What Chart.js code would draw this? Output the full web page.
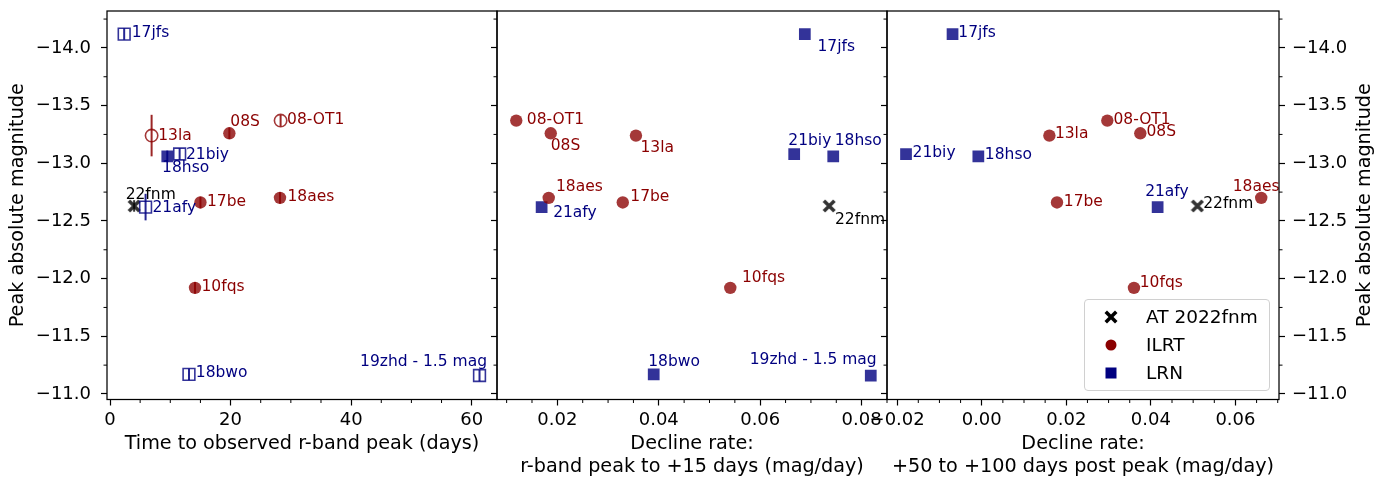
<!DOCTYPE html>
<html>
<head>
<meta charset="utf-8">
<script src="https://cdn.jsdelivr.net/npm/chart.js@4.4.0/dist/chart.umd.min.js"></script>
<style>
html, body { margin: 0; padding: 0; background: #fff; }
#wrap { position: relative; width: 1390px; height: 479px; font-family: 'DejaVu Sans'; }
#wrap canvas { position: absolute; left: 0; top: 0; }
#legend { position: absolute; left: 1084px; top: 299px; width: 186px; height: 92px; box-sizing: border-box;
  border: 1px solid #d0d0d0; border-radius: 4px; background: rgba(255,255,255,0.85); font-size: 18.5px; color: #000; }
#legend .lrow { position: absolute; left: 0; width: 100%; height: 24px; }
#legend svg { position: absolute; left: 19px; top: 5px; }
#legend span { position: absolute; left: 61px; top: 0; line-height: 24px; white-space: nowrap; }
</style>
</head>
<body>
<div id="wrap">
  <canvas id="c1" width="1390" height="479"></canvas>
  <canvas id="c2" width="1390" height="479"></canvas>
  <canvas id="c3" width="1390" height="479"></canvas>
  <div id="legend">
    <div class="lrow" style="top:5px"><svg width="14" height="14" viewBox="-7 -7 14 14"><polygon fill="#000" points="-6.5,-4 -4,-6.5 0,-2.5 4,-6.5 6.5,-4 2.5,0 6.5,4 4,6.5 0,2.5 -4,6.5 -6.5,4 -2.5,0"/></svg><span>AT 2022fnm</span></div>
    <div class="lrow" style="top:33px"><svg width="14" height="14" viewBox="-7 -7 14 14"><circle cx="0" cy="0" r="5.5" fill="#8b0000"/></svg><span>ILRT</span></div>
    <div class="lrow" style="top:61px"><svg width="14" height="14" viewBox="-7 -7 14 14"><rect x="-5.5" y="-5.5" width="11" height="11" fill="#000080"/></svg><span>LRN</span></div>
  </div>
</div>
<script>
// objects, class and peak magnitude
const names      = ['22fnm', '08S', '08-OT1', '10fqs', '13la', '17be', '18aes', '17jfs', '18bwo', '18hso', '19zhd', '21afy', '21biy'];
const classes    = ['AT', 'ILRT', 'ILRT', 'ILRT', 'ILRT', 'ILRT', 'ILRT', 'LRN', 'LRN', 'LRN', 'LRN', 'LRN', 'LRN'];
const peakMag    = [-12.63, -13.26, -13.37, -11.92, -13.24, -12.66, -12.70, -14.12, -11.17, -13.06, -11.16, -12.62, -13.08];
const peakMagErr = [0.05, 0.05, 0.05, 0.05, 0.18, 0.05, 0.05, 0.05, 0.05, 0.05, 0.05, 0.115, 0.05];
// x quantities of the three panels
const riseDays   = [4.0, 19.8, 28.3, 14.1, 6.9, 15.0, 28.2, 2.35, 13.1, 9.5, 61.3, 5.9, 11.55];
const riseOpen   = [false, false, true, false, true, false, false, true, true, false, true, true, true];
const earlyRate  = [0.0736, 0.0187, 0.0119, 0.0541, 0.0355, 0.0329, 0.0183, 0.0688, 0.0390, 0.0744, 0.0818, 0.0169, 0.0667];
const lateRate   = [0.0510, 0.0375, 0.0297, 0.0360, 0.0160, 0.0178, 0.0661, -0.0069, null, -0.0008, null, 0.0416, -0.0179];
// tick labels
const magTicks   = [-14.0, -13.5, -13.0, -12.5, -12.0, -11.5, -11.0];
const riseTicks  = [0, 20, 40, 60];
const earlyTicks = [0.02, 0.04, 0.06, 0.08];
const lateTicks  = [-0.02, 0.00, 0.02, 0.04, 0.06];

const FONT = 'DejaVu Sans';
Chart.defaults.font.family = FONT;
Chart.defaults.color = '#000';

const fillColor = { AT: 'rgba(0,0,0,0.8)', ILRT: 'rgba(139,0,0,0.78)', LRN: 'rgba(0,0,128,0.8)' };
const textColor = { AT: '#000000', ILRT: '#8b0000', LRN: '#000080' };
const errColor  = { AT: 'rgba(0,0,0,0.8)', ILRT: 'rgba(139,0,0,0.85)', LRN: 'rgba(0,0,128,0.85)' };

// filled "X" marker
const xMarker = document.createElement('canvas');
xMarker.width = 14; xMarker.height = 14;
(function () {
  const g = xMarker.getContext('2d');
  g.translate(7, 7);
  g.fillStyle = 'rgba(0,0,0,0.8)';
  g.beginPath();
  const p = [[-6.5,-4],[-4,-6.5],[0,-2.5],[4,-6.5],[6.5,-4],[2.5,0],[6.5,4],[4,6.5],[0,2.5],[-4,6.5],[-6.5,4],[-2.5,0]];
  p.forEach((q, i) => i ? g.lineTo(q[0], q[1]) : g.moveTo(q[0], q[1]));
  g.closePath();
  g.fill();
})();

// where each text label sits next to its marker: [dx, dy, align]
const labels1 = {
  '22fnm': [-8.5, -11, 'left'], '08S': [1, -11.5, 'left'], '08-OT1': [6.5, -0.6, 'left'], '10fqs': [6.5, -1, 'left'],
  '13la': [6.6, 0.4, 'left'], '17be': [6.5, -0.6, 'left'], '18aes': [7.5, -1.3, 'left'], '17jfs': [7.5, -1.4, 'left'],
  '18bwo': [6.8, -1.7, 'left'], '18hso': [-5.2, 11.8, 'left'], '19zhd': [7.5, -13.3, 'right'], '21afy': [6.9, 0.7, 'left'],
  '21biy': [6.3, 0.6, 'left']
};
const labels2 = {
  '22fnm': [5.8, 13.7, 'left'], '08S': [0, 12.4, 'left'], '08-OT1': [10.5, -0.8, 'left'], '10fqs': [11.7, -9.8, 'left'],
  '13la': [4.5, 12.1, 'left'], '17be': [7.5, -5.3, 'left'], '18aes': [7.2, -11.3, 'left'], '17jfs': [12.6, 12.6, 'left'],
  '18bwo': [-5.5, -12.5, 'left'], '18hso': [1.5, -15, 'left'], '19zhd': [5.9, -16, 'right'], '21afy': [11.5, 5.8, 'left'],
  '21biy': [-5.9, -13.4, 'left']
};
const labels3 = {
  '22fnm': [5.8, -1.6, 'left'], '08S': [6.2, -1.3, 'left'], '08-OT1': [6.1, -0.8, 'left'], '10fqs': [5.8, -5, 'left'],
  '13la': [5.5, -1.4, 'left'], '17be': [6.8, -0.6, 'left'], '18aes': [-28.5, -10.5, 'left'], '17jfs': [5.8, -0.9, 'left'],
  '18hso': [6.5, -1.5, 'left'], '21afy': [-12.5, -15.5, 'left'], '21biy': [6.5, -1, 'left']
};

const fmtMinus = s => s.replace('-', '\u2212');

const TITLE_SIZE = 19.2;

const panels = [
  { id: 'c1', xs: riseDays, xMin: -0.5, xMax: 64.2, ticks: riseTicks, minor: 5, fmt: v => String(v),
    title: 'Time to observed r-band peak (days)', titlePad: 23.5, pad: { left: 0, right: 893, top: 11, bottom: 0 },
    yWidth: 107, yLabels: true, open: true, errbars: true, labels: labels1 },
  { id: 'c2', xs: earlyRate, xMin: 0.0081, xMax: 0.0850, ticks: earlyTicks, minor: 0.005, fmt: v => v.toFixed(2),
    title: ['Decline rate:', 'r-band peak to +15 days (mag/day)'], titlePad: 0.5, pad: { left: 0, right: 503, top: 11, bottom: 0 },
    yWidth: 497, yLabels: false, open: false, errbars: false, labels: labels2 },
  { id: 'c3', xs: lateRate, xMin: -0.0224, xMax: 0.0703, ticks: lateTicks, minor: 0.005, fmt: v => fmtMinus(v.toFixed(2)),
    title: ['Decline rate:', '+50 to +100 days post peak (mag/day)'], titlePad: 0.5, pad: { left: 0, right: 1, top: 11, bottom: 0 },
    yWidth: 887, yLabels: false, open: false, errbars: false, labels: labels3, rightAxis: true }
];

const Y_MIN = -14.32, Y_MAX = -10.952;

function minorValues(min, max, step, majors) {
  const out = [];
  for (let k = Math.ceil(min / step - 1e-6); k * step <= max + 1e-9; k++) {
    const v = k * step;
    if (!majors.some(m => Math.abs(m - v) < step / 10)) out.push(v);
  }
  return out;
}

function decor(p) {
  return {
    id: 'decor_' + p.id,
    afterDatasetsDraw(chart) {
      const ctx = chart.ctx;
      const ys = chart.scales.y;
      ctx.save();
      chart.data.datasets.forEach((ds, di) => {
        const meta = chart.getDatasetMeta(di);
        meta.data.forEach((el, i) => {
          const d = ds.data[i];
          const k = classes[d.i];
          if (p.errbars) {
            ctx.strokeStyle = errColor[k];
            ctx.lineWidth = 2;
            ctx.beginPath();
            ctx.moveTo(el.x, ys.getPixelForValue(peakMag[d.i] - peakMagErr[d.i]));
            ctx.lineTo(el.x, ys.getPixelForValue(peakMag[d.i] + peakMagErr[d.i]));
            ctx.stroke();
          }
          const lp = p.labels[d.name];
          if (lp) {
            ctx.font = '15.5px ' + FONT;
            ctx.fillStyle = textColor[k];
            ctx.textAlign = lp[2];
            ctx.textBaseline = 'middle';
            ctx.fillText(d.name === '19zhd' ? '19zhd - 1.5 mag' : d.name, el.x + lp[0], el.y + lp[1]);
          }
        });
      });
      ctx.restore();
    },
    afterDraw(chart) {
      const ctx = chart.ctx;
      const a = chart.chartArea;
      ctx.save();
      ctx.strokeStyle = '#000';
      ctx.lineWidth = 1;
      const xs = chart.scales.x;
      minorValues(p.xMin, p.xMax, p.minor, p.ticks).forEach(v => {
        const x = xs.getPixelForValue(v);
        ctx.beginPath(); ctx.moveTo(x, a.bottom); ctx.lineTo(x, a.bottom + 3.5); ctx.stroke();
      });
      const ym = minorValues(Y_MIN, Y_MAX, 0.25, magTicks);
      ym.forEach(v => {
        const y = chart.scales.y.getPixelForValue(v);
        ctx.beginPath(); ctx.moveTo(a.left, y); ctx.lineTo(a.left - 3.5, y); ctx.stroke();
        if (p.rightAxis) {
          ctx.beginPath(); ctx.moveTo(a.right, y); ctx.lineTo(a.right + 3.5, y); ctx.stroke();
        }
      });
      ctx.lineWidth = 1.25;
      ctx.strokeRect(a.left, a.top, a.right - a.left, a.bottom - a.top);
      if (p.rightAxis) {
        ctx.translate(1365, (a.top + a.bottom) / 2);
        ctx.rotate(-Math.PI / 2);
        ctx.font = TITLE_SIZE + 'px ' + FONT;
        ctx.fillStyle = '#000';
        ctx.textAlign = 'center';
        ctx.textBaseline = 'middle';
        ctx.fillText('Peak absolute magnitude', 0, 0);
      }
      ctx.restore();
    }
  };
}

function yAxis(p, position, width, showLabels, title) {
  return {
    type: 'linear', position: position, min: Y_MIN, max: Y_MAX, reverse: true,
    afterBuildTicks: s => { s.ticks = magTicks.map(v => ({ value: v })); },
    afterFit: s => { s.width = width; s.paddingTop = 0; s.paddingBottom = 0; },
    ticks: { display: showLabels, font: { size: 18 }, color: '#000', padding: position === 'left' ? 10 : 7,
      callback: v => fmtMinus(v.toFixed(1)) },
    grid: { drawOnChartArea: false, drawTicks: true, tickLength: 6, color: '#000', tickWidth: 1.2 },
    border: { display: false },
    title: title ? { display: true, text: 'Peak absolute magnitude', font: { size: TITLE_SIZE }, color: '#000', padding: { top: 6, bottom: 0 } } : { display: false }
  };
}

panels.forEach(p => {
  const datasets = ['ILRT', 'LRN', 'AT'].map(k => {
    const data = names.map((n, i) => ({ x: p.xs[i], y: peakMag[i], name: n, i: i }))
      .filter(d => classes[d.i] === k && d.x !== null);
    const isOpen = c => p.open && c.raw && riseOpen[c.raw.i];
    return {
      label: k,
      data: data,
      showLine: false,
      pointStyle: k === 'AT' ? xMarker : (k === 'ILRT' ? 'circle' : 'rect'),
      pointRadius: k === 'LRN' ? 8.3 : 6.2,
      pointHoverRadius: k === 'LRN' ? 8.3 : 6.2,
      pointBackgroundColor: c => isOpen(c) ? 'rgba(0,0,0,0)' : fillColor[k],
      pointBorderColor: fillColor[k],
      pointBorderWidth: c => isOpen(c) ? 1.6 : 0
    };
  });
  const scales = {
    x: {
      type: 'linear', min: p.xMin, max: p.xMax,
      afterBuildTicks: s => { s.ticks = p.ticks.map(v => ({ value: v })); },
      afterFit: s => { s.height = 79.5; s.paddingLeft = 0; s.paddingRight = 0; },
      ticks: { callback: p.fmt, font: { size: 18 }, color: '#000', padding: 4, maxRotation: 0, autoSkip: false },
      grid: { drawOnChartArea: false, drawTicks: true, tickLength: 6, color: '#000', tickWidth: 1.2 },
      border: { display: false },
      title: { display: true, text: p.title, font: { size: TITLE_SIZE }, color: '#000', padding: { top: 0, bottom: p.titlePad } }
    },
    y: yAxis(p, 'left', p.yWidth, p.yLabels, p.yLabels)
  };
  if (p.rightAxis) scales.yr = yAxis(p, 'right', 110, true, false);
  new Chart(document.getElementById(p.id), {
    type: 'scatter',
    data: { datasets: datasets },
    options: {
      responsive: false,
      animation: false,
      devicePixelRatio: 1,
      layout: { padding: p.pad },
      scales: scales,
      plugins: { legend: { display: false }, tooltip: { enabled: false } },
      events: []
    },
    plugins: [decor(p)]
  });
});
</script>
</body>
</html>
